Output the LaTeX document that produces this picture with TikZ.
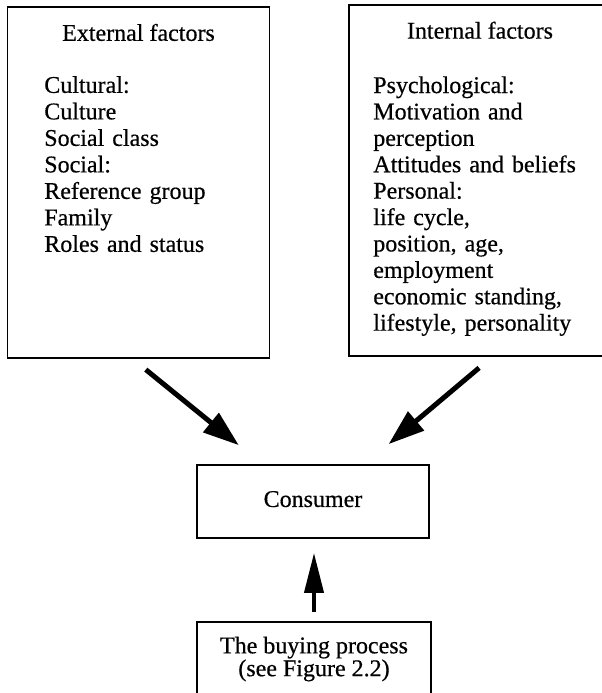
\documentclass[tikz,border=0pt]{standalone}
\usepackage{fontspec}
\setmainfont{Liberation Serif}[UprightFeatures={FakeBold=0.5}]
\usetikzlibrary{arrows.meta,positioning,calc}

\begin{document}
\begin{tikzpicture}[
  x=1pt, y=-1pt,
  factbox/.style={rectangle, draw=black, line width=1.8pt, minimum width=262pt, minimum height=351pt, inner sep=0pt},
  smallbox/.style={rectangle, draw=black, line width=1.8pt, minimum width=232pt, minimum height=74pt, align=center, inner sep=0pt, font=\fontsize{24pt}{21.5pt}\selectfont},
  heading/.style={anchor=base, inner sep=0pt, font=\fontsize{24pt}{26.5pt}\selectfont},
  itemlist/.style={anchor=north west, inner sep=0pt, align=left, text width=240pt, font=\fontsize{24pt}{26.5pt}\selectfont},
  bigarrow/.style={-{Triangle[length=36pt, width=24pt]}, line width=5pt, draw=black},
  uparrow/.style={-{Triangle[length=40pt, width=19pt]}, line width=4pt, draw=black}
]
\useasboundingbox (0,0) rectangle (602,693);
\node[factbox] (ext) at (138.5,182.5) {};
\node[factbox] (int) at (480,180.5) {};
\node[heading] (exttitle) at ([yshift=-34.7pt]ext.north) {External factors};
\node[heading] (inttitle) at ([yshift=-34.5pt]int.north) {Internal factors};
\node[itemlist] (extlist) at ([xshift=37.5pt, yshift=-69.9pt]ext.north west)
  {Cultural:\\Culture\\Social class\\Social:\\Reference group\\Family\\Roles and status};
\node[itemlist, font=\fontsize{24pt}{26.4pt}\selectfont] (intlist) at ([xshift=25pt, yshift=-72.1pt]int.north west)
  {Psychological:\\Motivation and\\perception\\Attitudes and beliefs\\Personal:\\life cycle,\\position, age,\\employment\\economic standing,\\lifestyle, personality};
\node[smallbox, minimum height=73pt, text depth=5pt] (cons) at (313,501.5) {Consumer};
\node[smallbox, minimum width=234pt] (buy) at (314,659) {The buying process\\(see Figure 2.2)};
\draw[bigarrow, shorten <=17pt, shorten >=30pt] ([xshift=126pt]ext.south west) -- ([xshift=66pt]cons.north west);
\draw[bigarrow, shorten <=17pt, shorten >=31pt] ([xshift=144pt]int.south west) -- ([xshift=-65pt]cons.north east);
\draw[uparrow, shorten <=9pt, shorten >=14pt] (buy.north) -- (buy.north |- cons.south);
\end{tikzpicture}
\end{document}
